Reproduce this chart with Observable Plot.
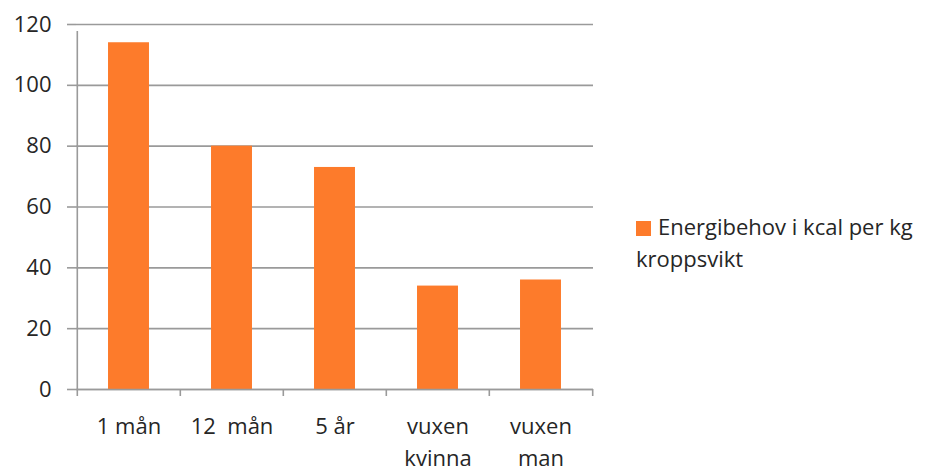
<!DOCTYPE html>
<html>
<head>
<meta charset="utf-8">
<script src="https://cdn.jsdelivr.net/npm/d3@7"></script>
<script src="https://cdn.jsdelivr.net/npm/@observablehq/plot@0.6"></script>
<style>
  body { margin: 0; background: #fff; }
  #wrap { position: relative; width: 930px; height: 466px; font-family: "Open Sans", Lato, sans-serif; }
  #wrap svg { position: absolute; left: 0; top: 0; }
  #legend { position: absolute; left: 636px; top: 210px; width: 300px; font-size: 22px; color: #262626; line-height: 32px; }
  #legend .sw { display: inline-block; width: 15px; height: 15px; background: #fd7b2b; margin-right: 7px; vertical-align: -1px; }
</style>
</head>
<body>
<div id="wrap"><div id="legend"><span class="sw"></span>Energibehov i kcal per kg<br>kroppsvikt</div></div>
<script>
const categories = ["1 mån", "12\u00a0 mån", "5 år", "vuxen\nkvinna", "vuxen\nman"];
const values = [114, 80, 73, 34, 36];
const yTicks = [0, 20, 40, 60, 80, 100, 120];
const seriesName = "Energibehov i kcal per kg kroppsvikt";
const data = categories.map((c, i) => ({cat: c, value: values[i]}));

const W = 930, H = 466;
const mL = 76, mR = 337, mT = 24, mB = 77;
const bw = (W - mL - mR) / categories.length;
const gray = "#9a9a9a";

const chart = Plot.plot({
  width: W, height: H,
  marginLeft: mL, marginRight: mR, marginTop: mT, marginBottom: mB,
  style: {fontFamily: "'Open Sans', Lato, sans-serif", fontSize: "22px", color: "#262626", background: "transparent"},
  x: {type: "band", domain: categories, padding: 0, label: null},
  y: {type: "linear", domain: [0, 120], label: null},
  marks: [
    Plot.gridY(yTicks, {stroke: gray, strokeOpacity: 1, strokeWidth: 1.6}),
    Plot.axisY(yTicks, {tickSize: 9, tickPadding: 16, stroke: gray, strokeWidth: 1.6, fontSize: 22, fill: "#262626", label: null}),
    Plot.barY(data, {x: "cat", y: "value", fill: "#fd7b2b", insetLeft: bw * 0.3, insetRight: bw * 0.3}),
    Plot.ruleX([categories[0]], {x: d => d, dx: -bw / 2, y1: 0, y2: 120, stroke: gray, strokeWidth: 1.6, insetBottom: -7}),
    Plot.ruleX(categories, {x: d => d, dx: -bw / 2, y1: 0, y2: 0, stroke: gray, strokeWidth: 1.6, insetBottom: -7}),
    Plot.ruleX([categories[categories.length - 1]], {x: d => d, dx: bw / 2, y1: 0, y2: 0, stroke: gray, strokeWidth: 1.6, insetBottom: -7}),
    Plot.ruleY([0], {stroke: gray, strokeWidth: 1.6}),
    Plot.axisX({tickSize: 0, tickPadding: 0, fontSize: 22, fill: "#262626", label: null, lineHeight: 1.45, dy: 22})
  ]
});
document.getElementById("wrap").prepend(chart);
</script>
</body>
</html>
